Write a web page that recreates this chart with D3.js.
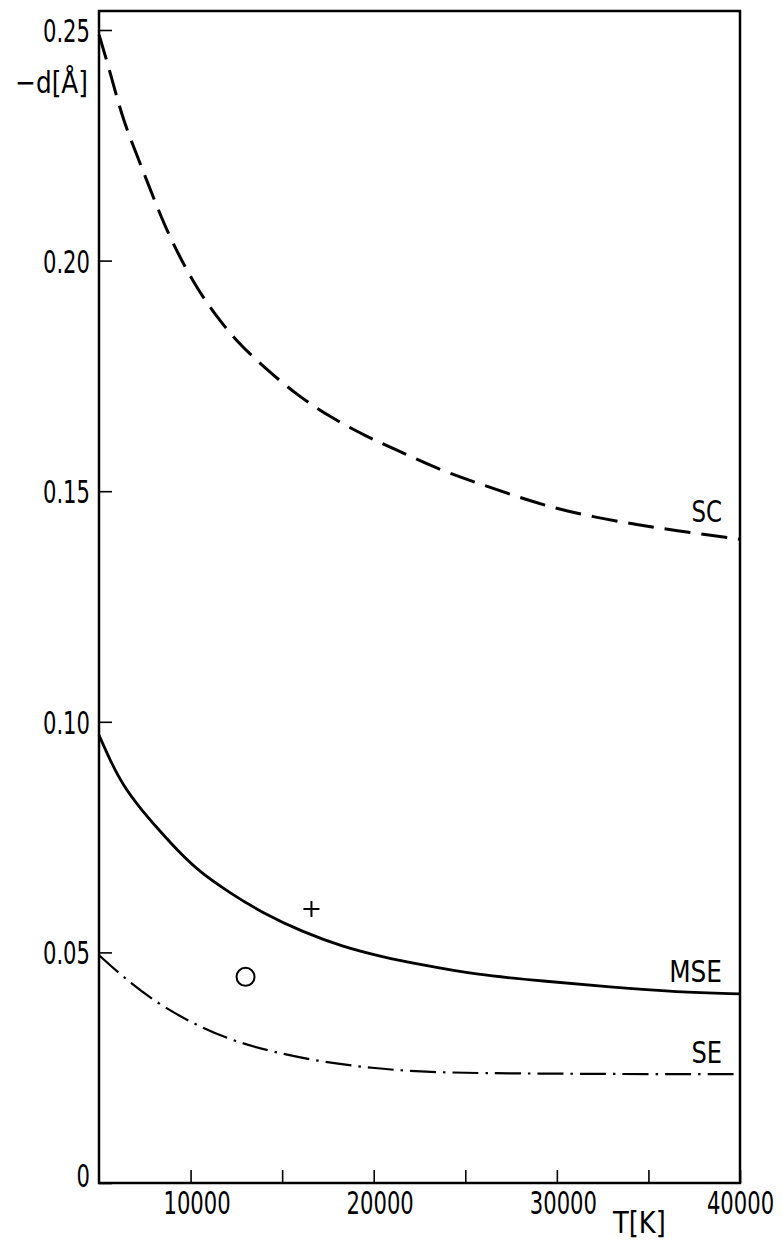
<!DOCTYPE html>
<html>
<head>
<meta charset="utf-8">
<script src="https://cdn.jsdelivr.net/npm/d3@7"></script>
<style>
  body { margin: 0; background: #fff; }
  svg text { font-family: "DejaVu Sans", sans-serif; fill: #000; }
</style>
</head>
<body>
<svg width="782" height="1241"></svg>
<script>
// values: T in K, -d in Angstrom
const scT = [5000, 5600, 6300, 7240, 8440, 9300, 10240, 11340, 12600, 14180, 15800, 17600, 19640, 21000, 23600, 25650, 27900, 29800, 32000, 34160, 36200, 40000];
const scD = [0.249, 0.241, 0.2305, 0.2212, 0.2088, 0.2016, 0.1947, 0.1882, 0.1821, 0.1763, 0.1709, 0.1661, 0.1618, 0.1594, 0.1546, 0.1518, 0.1487, 0.1464, 0.1444, 0.1429, 0.1416, 0.1396];

const mseT = [5000, 5600, 6300, 7240, 8170, 9260, 10500, 12150, 13950, 16140, 18330, 20500, 22500, 25650, 29250, 32900, 36570, 40000];
const mseD = [0.0971, 0.0917, 0.0863, 0.0813, 0.077, 0.0722, 0.0674, 0.0629, 0.0585, 0.0544, 0.0512, 0.049, 0.0474, 0.0451, 0.0438, 0.0425, 0.0414, 0.041];

const seT = [5000, 6300, 8170, 9970, 12150, 14500, 17230, 19960, 22400, 26000, 30000, 35000, 40000];
const seD = [0.0494, 0.0447, 0.039, 0.0349, 0.031, 0.0284, 0.0262, 0.0249, 0.0241, 0.0238, 0.0237, 0.0236, 0.0236];

const circlePoint = [13000, 0.0447];
const crossPoint = [16600, 0.0594];

const yTicks = [0, 0.05, 0.10, 0.15, 0.20, 0.25];
const xTicks = [10000, 15000, 20000, 25000, 30000, 35000, 40000];

const svg = d3.select('svg');

const x = d3.scaleLinear().domain([5000, 40000]).range([99, 740]);
const y = d3.scaleLinear().domain([0, 0.25]).range([1183, 30]);

// narrow lettering: draw text at (px,py), squeezed sideways by f
function label(parent, px, py, f, txt, anchor, size) {
    return parent.append('text')
        .attr('transform', `translate(${px},${py}) scale(${f},1)`)
        .attr('text-anchor', anchor)
        .attr('font-size', size)
        .text(txt);
}

// y axis, ticks pointing inward
const yAxis = svg.append('g')
    .attr('transform', 'translate(99,0)')
    .call(d3.axisLeft(y)
        .tickValues(yTicks)
        .tickSizeInner(-13)
        .tickSizeOuter(0)
        .tickFormat(''));
yAxis.select('.domain').remove();
yAxis.selectAll('.tick line').attr('stroke', '#000').attr('stroke-width', 1.6);
yAxis.selectAll('.tick').each(function (d) {
    const lab = d === 0 ? '0' : d3.format('.2f')(d);
    label(d3.select(this), -9, d === 0 ? 3 : 11.5, 0.66, lab, 'end', 32);
});

// x axis
const xAxis = svg.append('g')
    .attr('transform', 'translate(0,1183)')
    .call(d3.axisBottom(x)
        .tickValues(xTicks)
        .tickSizeInner(-13)
        .tickSizeOuter(0)
        .tickFormat(''));
xAxis.select('.domain').remove();
xAxis.selectAll('.tick line').attr('stroke', '#000').attr('stroke-width', 1.6);
xAxis.selectAll('.tick')
    .filter(d => d % 10000 === 0)
    .each(function (d) {
        label(d3.select(this), d === 40000 ? 0 : 6, 31, 0.66, d, 'middle', 32);
    });

// frame
svg.append('rect')
    .attr('x', 99).attr('y', 11)
    .attr('width', 641).attr('height', 1172)
    .attr('fill', 'none')
    .attr('stroke', '#000')
    .attr('stroke-width', 2.5);

// axis titles
label(svg, 88, 93, 0.8, '\u2212d[Å]', 'end', 31);
label(svg, 613, 1233, 0.86, 'T[K]', 'start', 30);

// curves
const line = d3.line()
    .x(d => x(d[0]))
    .y(d => y(d[1]))
    .curve(d3.curveBasis);

svg.append('path')
    .datum(d3.zip(scT, scD))
    .attr('d', line)
    .attr('fill', 'none')
    .attr('stroke', '#000')
    .attr('stroke-width', 3)
    .attr('stroke-dasharray', '26,11');

svg.append('path')
    .datum(d3.zip(mseT, mseD))
    .attr('d', line)
    .attr('fill', 'none')
    .attr('stroke', '#000')
    .attr('stroke-width', 2.8);

svg.append('path')
    .datum(d3.zip(seT, seD))
    .attr('d', line)
    .attr('fill', 'none')
    .attr('stroke', '#000')
    .attr('stroke-width', 2.2)
    .attr('stroke-dasharray', '26,7,2.5,7');

// curve labels
label(svg, 722, 522, 0.74, 'SC', 'end', 31);
label(svg, 722, 982, 0.8, 'MSE', 'end', 31);
label(svg, 722, 1063, 0.78, 'SE', 'end', 31);

// single points
svg.append('circle')
    .attr('cx', x(circlePoint[0]))
    .attr('cy', y(circlePoint[1]))
    .attr('r', 9)
    .attr('fill', 'none')
    .attr('stroke', '#000')
    .attr('stroke-width', 2);

const cx = x(crossPoint[0]);
const cy = y(crossPoint[1]);
svg.append('path')
    .attr('d', `M${cx - 8},${cy}H${cx + 8}M${cx},${cy - 8}V${cy + 8}`)
    .attr('stroke', '#000')
    .attr('stroke-width', 2);
</script>
</body>
</html>
